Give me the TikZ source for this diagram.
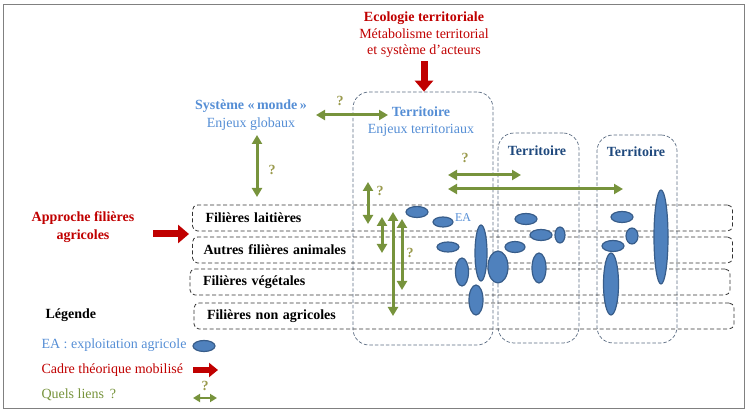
\documentclass[tikz,border=0pt]{standalone}
\usepackage{fontspec}
\setmainfont{Liberation Serif}
\usetikzlibrary{shapes.geometric,positioning,fit,arrows.meta}
\definecolor{rougeT}{HTML}{C00000}
\definecolor{bleuC}{HTML}{558ED5}
\definecolor{bleuF}{HTML}{1F497D}
\definecolor{vertL}{HTML}{77933C}
\definecolor{questC}{HTML}{9B9B4E}
\definecolor{eaFill}{HTML}{4F81BD}
\definecolor{eaLine}{HTML}{385D8A}

\begin{document}
\begin{tikzpicture}[x=1pt, y=-1pt, font=\fontsize{14}{17}\selectfont,
  filbox/.style={draw=black!80, line width=0.8pt, dash pattern=on 4pt off 2.5pt, rounded corners=5pt, minimum width=540pt, minimum height=26pt, text width=518pt, inner xsep=11pt, align=left, font=\fontsize{14}{16}\selectfont\bfseries},
  terrbox/.style={draw=bleuF!60!black!70, line width=0.7pt, dash pattern=on 3.5pt off 2pt, rounded corners=16pt},
  ea/.style={ellipse, draw=eaLine, fill=eaFill, line width=1.2pt, inner sep=0pt},
  lien/.style={vertL, line width=3pt, {Triangle[length=9pt,width=10pt]}-{Triangle[length=9pt,width=10pt]}},
  cadre/.style={rougeT, line width=7pt, -{Triangle[length=11pt,width=18pt]}},
  qm/.style={text=questC, font=\fontsize{14}{16}\selectfont\bfseries}]
  \useasboundingbox (0,0) rectangle (747,411);
  \draw[gray, line width=0.8pt] (3,4) rectangle (744,408);
  % cadres theoriques
  \node[align=center, text=rougeT, font=\fontsize{14}{16.5}\selectfont] (eco) at (424,35) {\textbf{Ecologie territoriale}\\Métabolisme territorial\\et système d’acteurs};
  \node[align=center, text=rougeT, font=\fontsize{14}{18}\selectfont\bfseries] (appr) at (83,227) {Approche filières\\agricoles};
  % territoires
  \node[terrbox, minimum width=140pt, minimum height=253pt] (terrA) at (423,218.5) {};
  \node[terrbox, minimum width=81pt, minimum height=210pt] (terrB) at (538.5,238) {};
  \node[terrbox, minimum width=80pt, minimum height=208pt] (terrC) at (637,239) {};
  \node[align=center, text=bleuC] (terrAlab) at (421,122) {\textbf{Territoire}\\Enjeux territoriaux};
  \node[text=bleuF, font=\fontsize{14}{16}\selectfont\bfseries] (terrBlab) at (537,151) {Territoire};
  \node[text=bleuF, font=\fontsize{14}{16}\selectfont\bfseries] (terrClab) at (636,152) {Territoire};
  \node[align=center, text=bleuC, font=\fontsize{14}{18}\selectfont] (sys) at (251,115) {\textbf{Système «\,monde\,»}\\Enjeux globaux};
  % filieres
  \node[filbox] (lait) at (462.5,218) {\hspace*{2pt}Filières laitières};
  \node[filbox] (anim) at (462.5,250) {Autres filières animales};
  \node[filbox] (veg) at (460,282) {\hspace*{2pt}Filières végétales};
  \node[filbox] (nonag) at (464,316) {\hspace*{2pt}Filières non agricoles};
  % exploitations agricoles
  \foreach \n/\x/\y/\w/\h in {e1/417/212/22/11, e2/443/222/20/10, e3/448/247/22/10,
      e4/462/272/13/28, e5/481/253/12/56, e6/476/300/14/30, e7/498/267/20/32,
      e8/526/219/22/11, e9/541/235/22/11, e10/560/235/10/16, e11/515/247/20/11,
      e12/539/268/14/30, e13/622/217/22/11, e14/632/236/12/16, e15/613/246/22/11,
      e16/611/284/15/62, e17/661/237/14/94}
    \node[ea, minimum width=\w pt, minimum height=\h pt] (\n) at (\x,\y) {};
  \node[text=bleuC, font=\fontsize{12}{14}\selectfont] (ealab) at (463,218) {EA};
  % liens
  \coordinate (sysE) at (316,115);
  \coordinate (terrW) at (388,115);
  \coordinate (sysS) at (257,135);
  \coordinate (laitN) at (257,197);
  \draw[lien] (sysE) -- (terrW);
  \draw[lien] (sysS) -- (laitN);
  \node[qm] (q1) at (340,101) {?};
  \node[qm] (q2) at (272,170) {?};
  \coordinate (tA1) at (448,175);
  \coordinate (tB1) at (521,175);
  \coordinate (tA2) at (448,189);
  \coordinate (tC2) at (623,189);
  \draw[lien] (tA1) -- (tB1);
  \draw[lien] (tA2) -- (tC2);
  \node[qm] (q3) at (465,158) {?};
  \coordinate (va1) at (368,182);
  \coordinate (va2) at (368,224);
  \coordinate (vb1) at (382,217);
  \coordinate (vb2) at (382,253);
  \coordinate (vc1) at (393,212);
  \coordinate (vc2) at (393,316);
  \coordinate (vd1) at (402,219);
  \coordinate (vd2) at (402,290);
  \draw[lien] (va1) -- (va2);
  \draw[lien] (vb1) -- (vb2);
  \draw[lien] (vc1) -- (vc2);
  \draw[lien] (vd1) -- (vd2);
  \node[qm] (q4) at (380,191) {?};
  \node[qm] (q5) at (410,253) {?};
  % cadres mobilises
  \draw[cadre] (eco.south) -- (eco.south |- terrA.north);
  \coordinate (apprE) at (153,234);
  \coordinate (filW) at (189,234);
  \draw[cadre] (apprE) -- (filW);
  % legende
  \node[anchor=west, font=\fontsize{14}{16}\selectfont\bfseries] (leg) at (42,315) {Légende};
  \node[anchor=west, text=bleuC] (legea) at (38,345) {EA : exploitation agricole};
  \node[ea, minimum width=22pt, minimum height=11pt] (legell) at (204,346) {};
  \node[anchor=west, text=rougeT] (legcad) at (38,370) {Cadre théorique mobilisé};
  \coordinate (lc1) at (193,370);
  \coordinate (lc2) at (218,370);
  \draw[rougeT, line width=6pt, -{Triangle[length=9pt,width=14pt]}] (lc1) -- (lc2);
  \node[anchor=west, text=vertL] (legli) at (38,395) {Quels liens\, ?};
  \coordinate (ll1) at (193,398);
  \coordinate (ll2) at (217,398);
  \draw[vertL, line width=2.5pt, {Triangle[length=7pt,width=8pt]}-{Triangle[length=7pt,width=8pt]}] (ll1) -- (ll2);
  \node[qm] (q6) at (205,386) {?};
\end{tikzpicture}
\end{document}
